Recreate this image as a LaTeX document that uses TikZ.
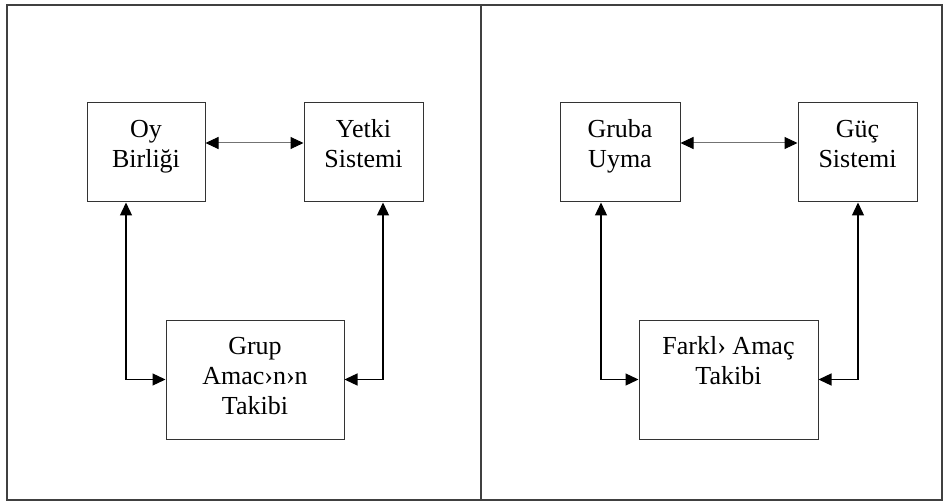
\documentclass[tikz,border=0pt]{standalone}
\usepackage{fontspec}
\setmainfont{Liberation Serif}
\usetikzlibrary{arrows.meta}
\begin{document}
\begin{tikzpicture}[x=1pt,y=-1pt,
  frame/.style={draw=black!75,line width=1.1pt},
  box/.style={draw=black!80,line width=1pt,rectangle,inner sep=0pt},
  txt/.style={inner sep=0pt,anchor=north,align=center,font=\fontsize{26}{30}\selectfont},
  harr/.style={draw=black!55,line width=1pt,{Triangle[length=13pt,width=12pt,fill=black,color=black]}-{Triangle[length=13pt,width=12pt,fill=black,color=black]}},
  varr/.style={draw=black,line width=1.3pt,{Triangle[length=13pt,width=12pt]}-{Triangle[length=13pt,width=12pt]}}]
\useasboundingbox (0,0) rectangle (944,502);
% frames
\draw[frame] (7,5) rectangle (942,500);
\draw[frame] (481,5) -- (481,500);
% left panel
\node[box,minimum width=118pt,minimum height=99pt] (oy) at (146,152.5) {};
\node[box,minimum width=119pt,minimum height=99pt] (yetki) at (363.5,152.5) {};
\node[box,minimum width=178pt,minimum height=119pt] (grup) at (255,379.5) {};
\node[txt] (oyT) at (146,116) {\strut Oy\\Birliği};
\node[txt] (yetkiT) at (363.5,116) {\strut Yetki\\Sistemi};
\node[txt] (grupT) at (255,333) {\strut Grup\\Amac›n›n\\Takibi};
\draw[harr] ([yshift=9.5pt]oy.east) -- ([yshift=9.5pt]yetki.west);
\draw[varr] ([xshift=-20pt]oy.south) |- (grup.west);
\draw[varr] ([xshift=19.5pt]yetki.south) |- (grup.east);
% right panel
\node[box,minimum width=120pt,minimum height=99pt] (gruba) at (620,152.5) {};
\node[box,minimum width=119pt,minimum height=99pt] (guc) at (857.5,152.5) {};
\node[box,minimum width=179pt,minimum height=119pt] (farkli) at (728.5,379.5) {};
\node[txt] (grubaT) at (620,116) {\strut Gruba\\Uyma};
\node[txt] (gucT) at (857.5,116) {\strut Güç\\Sistemi};
\node[txt] (farkliT) at (728.5,333) {\strut Farkl› Amaç\\Takibi};
\draw[harr] ([yshift=9.5pt]gruba.east) -- ([yshift=9.5pt]guc.west);
\draw[varr] ([xshift=-19pt]gruba.south) |- (farkli.west);
\draw[varr] ([xshift=0.5pt]guc.south) |- (farkli.east);
\end{tikzpicture}
\end{document}
